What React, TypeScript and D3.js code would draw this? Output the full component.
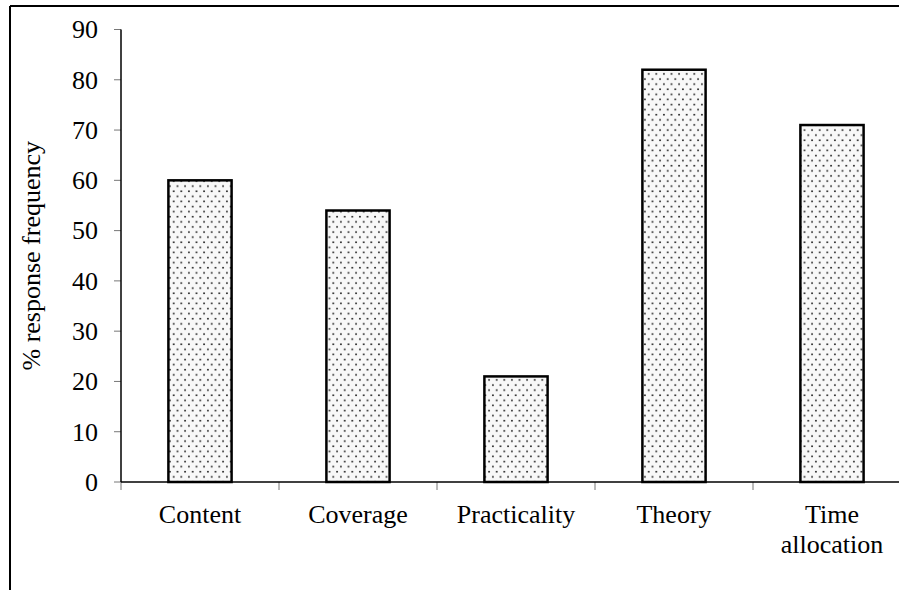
import React from "react";
import * as d3 from "d3";

const categories: string[][] = [["Content"], ["Coverage"], ["Practicality"], ["Theory"], ["Time", "allocation"]];
const values: number[] = [60, 54, 21, 82, 71];
const yTicks: number[] = [0, 10, 20, 30, 40, 50, 60, 70, 80, 90];
const yLabel = "% response frequency";

export default function App() {
  const W = 899, H = 590;
  const x0 = 121, step = 158;
  const keys = categories.map((c) => c.join(" "));
  const x = d3.scaleBand<string>().domain(keys).range([x0, x0 + step * keys.length]).paddingInner(0.6).paddingOuter(0.3);
  const y = d3.scaleLinear().domain([0, 90]).range([482, 29.5]);
  const font = "Liberation Serif";
  const boundaries = keys.map((k) => (x(k) as number) - x.step() * 0.3);
  return (
    <svg width={W} height={H} style={{ position: "absolute", left: 0, top: 0, background: "#fff" }}>
      <defs>
        <pattern id="dots" width={7.6} height={10.2} patternUnits="userSpaceOnUse" x={168} y={0}>
          <rect width={7.6} height={10.2} fill="#f8f8f8" />
          <circle cx={1.9} cy={2.5} r={0.95} fill="#222" />
          <circle cx={5.7} cy={7.6} r={0.95} fill="#222" />
        </pattern>
      </defs>
      <line x1={10} y1={6} x2={W} y2={6} stroke="#000" strokeWidth={2} />
      <line x1={10} y1={6} x2={10} y2={H} stroke="#000" strokeWidth={2} />
      {yTicks.map((t) => (
        <g key={t}>
          <line x1={114} x2={x0} y1={y(t)} y2={y(t)} stroke="#777" strokeWidth={1} />
          <text x={98} y={y(t)} dy="0.34em" textAnchor="end" style={{ fontFamily: font }} fontSize={26} fill="#000">{t}</text>
        </g>
      ))}
      {boundaries.map((b, i) => (
        <line key={i} x1={b} x2={b} y1={y(0)} y2={y(0) + 8} stroke="#777" strokeWidth={1} />
      ))}
      {keys.map((k, i) => (
        <rect key={k} x={x(k)} y={y(values[i])} width={x.bandwidth()} height={y(0) - y(values[i])} fill="url(#dots)" stroke="#000" strokeWidth={2.5} />
      ))}
      <line x1={x0} x2={x0} y1={y(90)} y2={y(0)} stroke="#000" strokeWidth={1.5} />
      <line x1={x0} x2={W} y1={y(0)} y2={y(0)} stroke="#000" strokeWidth={1.5} />
      {categories.map((lines, i) => (
        <text key={i} x={(x(keys[i]) as number) + x.bandwidth() / 2} y={522.7} textAnchor="middle" style={{ fontFamily: font }} fontSize={26} fill="#000">
          {lines.map((l, j) => (
            <tspan key={j} x={(x(keys[i]) as number) + x.bandwidth() / 2} dy={j === 0 ? 0 : 30}>{l}</tspan>
          ))}
        </text>
      ))}
      <text transform={`translate(40, ${(y(0) + y(90)) / 2}) rotate(-90)`} textAnchor="middle" style={{ fontFamily: font }} fontSize={26} fill="#000">{yLabel}</text>
    </svg>
  );
}
